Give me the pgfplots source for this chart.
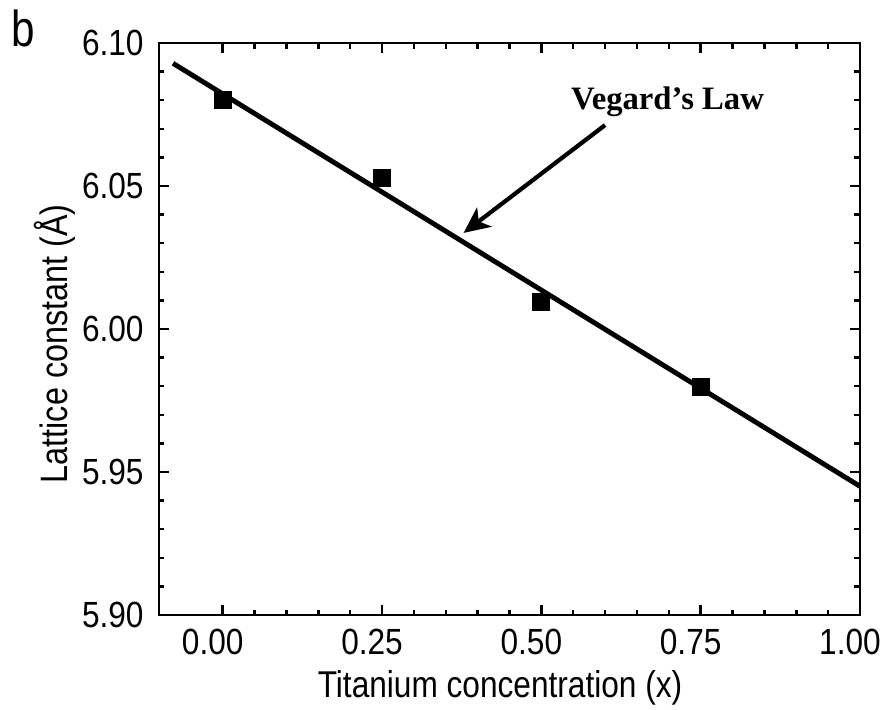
\documentclass[border=0pt]{standalone}
\usepackage{fontspec}
\setmainfont{Liberation Sans}
\newfontfamily\annofont{Liberation Serif}
\usepackage{graphicx}
\usepackage{pgfplots}
\pgfplotsset{compat=1.18}
\usetikzlibrary{arrows.meta}

\begin{document}
\begin{tikzpicture}
\useasboundingbox (-1.59,-0.95) rectangle (7.27,6.15);
\begin{axis}[
  scale only axis,
  width=7.01cm, height=5.72cm,
  xmin=-0.1, xmax=1.0,
  ymin=5.90, ymax=6.10,
  xtick={0,0.25,0.5,0.75,1.0},
  ytick={5.90,5.95,6.00,6.05,6.10},
  minor x tick num=4,
  minor y tick num=4,
  tick align=inside,
  major tick length=0.1cm,
  minor tick length=0.055cm,
  axis line style={line width=0.85pt},
  every tick/.style={line width=0.7pt, black},
  /pgf/number format/.cd, fixed, fixed zerofill, precision=2, assume math mode=true,
  /pgfplots/.cd,
  xticklabel={\scalebox{1}[1.15]{\fontsize{9}{10}\selectfont\pgfmathprintnumber{\tick}}},
  yticklabel={\scalebox{1}[1.15]{\fontsize{9}{10}\selectfont\pgfmathprintnumber{\tick}}},
  xticklabel style={xshift=-0.1cm, yshift=-0.02cm},
  yticklabel style={xshift=-0.03cm},
  every axis x label/.style={at={(axis description cs:0.4865,-0.128)}, anchor=center},
  every axis y label/.style={at={(axis description cs:-0.148,0.474)}, anchor=center, rotate=90},
  xlabel={\scalebox{1}[1.18]{\fontsize{9}{10}\selectfont Titanium concentration (x)}},
  ylabel={\scalebox{1}[1.18]{\fontsize{9.2}{10}\selectfont Lattice constant (Å)}},
]
% Vegard's law fit
\addplot[black, line width=1.4pt] coordinates {
  (-0.078,6.0929)
  (1.0,5.945)
};
% measured lattice constants
\addplot[only marks, mark=square*, mark size=2.4pt, black] coordinates {
  (0.00,6.0800)
  (0.25,6.0528)
  (0.50,6.0094)
  (0.75,5.9797)
};
\draw[line width=1.2pt, -{Stealth[length=2.6mm,width=2.4mm,inset=0.7mm]}]
  (axis cs:0.600,6.0713) -- (axis cs:0.378,6.0336);
\node[font=\annofont\bfseries\fontsize{9.3}{11}\selectfont] at (axis cs:0.698,6.0794) {Vegard’s Law};
\end{axis}
\node at (-1.36,5.87) {\scalebox{1}[1.2]{\fontsize{12}{14}\selectfont b}};
\end{tikzpicture}
\end{document}
